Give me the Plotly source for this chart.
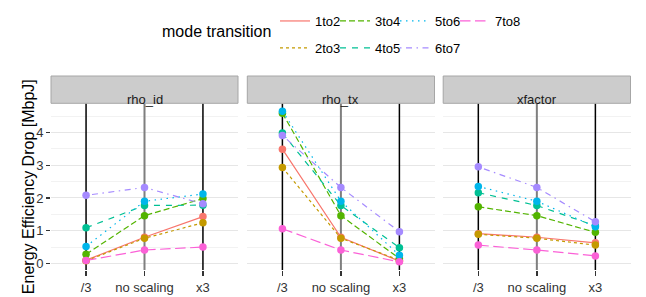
import plotly.graph_objects as go

categories = ["/3", "no scaling", "x3"]
panels = ["rho_id", "rho_tx", "xfactor"]
transitions = ["1to2", "2to3", "3to4", "4to5", "5to6", "6to7", "7to8"]
y_range = [-0.2, 4.89]

rho_id = {
    "1to2": [0.10, 0.80, 1.43],
    "2to3": [0.08, 0.77, 1.24],
    "3to4": [0.28, 1.46, 1.98],
    "4to5": [1.09, 1.77, 1.78],
    "5to6": [0.52, 1.90, 2.12],
    "6to7": [2.08, 2.32, 1.82],
    "7to8": [0.09, 0.41, 0.50],
}
rho_tx = {
    "1to2": [3.49, 0.80, 0.07],
    "2to3": [2.93, 0.77, 0.10],
    "3to4": [4.59, 1.46, 0.15],
    "4to5": [3.98, 1.77, 0.48],
    "5to6": [4.65, 1.90, 0.25],
    "6to7": [3.91, 2.32, 0.97],
    "7to8": [1.06, 0.41, 0.05],
}
xfactor = {
    "1to2": [0.91, 0.80, 0.63],
    "2to3": [0.89, 0.77, 0.56],
    "3to4": [1.73, 1.46, 0.95],
    "4to5": [2.16, 1.77, 1.15],
    "5to6": [2.35, 1.90, 1.12],
    "6to7": [2.95, 2.32, 1.27],
    "7to8": [0.56, 0.41, 0.23],
}
panel_data = [rho_id, rho_tx, xfactor]

colors = ["#F8766D", "#C49A00", "#53B400", "#00C094", "#00B6EB", "#A58AFF", "#FB61D7"]
dashes = ["solid", "3px,3px", "6px,3px", "6px,6px", "1.5px,4.5px",
          "1.5px,4.5px,6px,4.5px", "10.5px,4.5px"]
legend_col = ["legend", "legend", "legend2", "legend2", "legend3", "legend3", "legend4"]

W, H = 646, 297
xdom = [(51 / W, 238 / W), (247.3 / W, 434.5 / W), (443.2 / W, 630.5 / W)]
ydom = (0.0909, 0.6522)
strip_top = 1 - 76 / H

fig = go.Figure()
font = "Liberation Sans, Arial, sans-serif"

# vertical category reference lines spanning the y range (drawn first, under data)
for p in range(3):
    xa = "x" if p == 0 else f"x{p+1}"
    ya = "y" if p == 0 else f"y{p+1}"
    for c in categories:
        mid = c == "no scaling"
        fig.add_trace(go.Scatter(
            x=[c, c], y=y_range, mode="lines",
            line=dict(color="#7F7F7F" if mid else "#000000", width=2 if mid else 1.5),
            xaxis=xa, yaxis=ya, showlegend=False, hoverinfo="skip", cliponaxis=False))

# lines
for p in range(3):
    xa = "x" if p == 0 else f"x{p+1}"
    ya = "y" if p == 0 else f"y{p+1}"
    for i, t in enumerate(transitions):
        fig.add_trace(go.Scatter(
            x=categories, y=panel_data[p][t], mode="lines", name=t,
            line=dict(color=colors[i], width=1.2, dash=dashes[i]),
            xaxis=xa, yaxis=ya, legendgroup=t, showlegend=(p == 0),
            legend=legend_col[i], hoverinfo="skip"))
# points
for p in range(3):
    xa = "x" if p == 0 else f"x{p+1}"
    ya = "y" if p == 0 else f"y{p+1}"
    for i, t in enumerate(transitions):
        fig.add_trace(go.Scatter(
            x=categories, y=panel_data[p][t], mode="markers", name=t,
            marker=dict(color=colors[i], size=7.5),
            xaxis=xa, yaxis=ya, legendgroup=t, showlegend=False))

shapes = []
annotations = []
for p in range(3):
    xa = "x" if p == 0 else f"x{p+1}"
    shapes.append(dict(type="rect", xref=f"{xa} domain", yref="paper",
                       x0=0, x1=1, y0=ydom[1], y1=strip_top,
                       fillcolor="#CCCCCC", line=dict(color="#A6A6A6", width=1)))
    annotations.append(dict(text=panels[p], xref=f"{xa} domain", yref="paper",
                            x=0.5, y=(ydom[1] + strip_top) / 2, showarrow=False,
                            font=dict(size=13, color="#1A1A1A", family=font)))

annotations.append(dict(text="Energy Efficiency Drop [MbpJ]", xref="paper", yref="paper",
                        x=18 / W, y=(ydom[0] + ydom[1]) / 2, textangle=-90,
                        showarrow=False, font=dict(size=16, color="#000000", family=font)))
annotations.append(dict(text="mode transition", xref="paper", yref="paper",
                        x=160 / W, y=1 - 32 / H, xanchor="left", yanchor="middle",
                        showarrow=False, font=dict(size=16, color="#000000", family=font)))

xaxis_common = dict(type="category", categoryorder="array", categoryarray=categories,
                    range=[-0.6, 2.6], zeroline=False, showline=False, showgrid=False,
                    ticks="outside", ticklen=5, tickwidth=1.5, tickcolor="#333333",
                    tickfont=dict(size=13, color="#333333", family=font), fixedrange=True)
yaxis_common = dict(range=y_range, domain=ydom, tickvals=[0, 1, 2, 3, 4],
                    showgrid=True, gridcolor="#E6E6E6", gridwidth=1, zeroline=False,
                    showline=False, minor=dict(dtick=0.5, tick0=0, showgrid=True,
                                               gridcolor="#F2F2F2", gridwidth=1),
                    tickfont=dict(size=13, color="#333333", family=font), fixedrange=True)

legend_common = dict(orientation="v", xanchor="left", yanchor="top",
                     itemwidth=30, tracegroupgap=7,
                     bgcolor="rgba(0,0,0,0)", font=dict(size=13, color="#000000", family=font),
                     traceorder="grouped", y=1 - 6 / H)

fig.update_layout(
    width=W, height=H,
    margin=dict(l=0, r=0, t=0, b=0, pad=0, autoexpand=False),
    paper_bgcolor="white", plot_bgcolor="white",
    font=dict(family=font),
    xaxis=dict(domain=xdom[0], anchor="y", **xaxis_common),
    xaxis2=dict(domain=xdom[1], anchor="y2", **xaxis_common),
    xaxis3=dict(domain=xdom[2], anchor="y3", **xaxis_common),
    yaxis=dict(anchor="x", ticks="outside", ticklen=4, tickwidth=1.2, tickcolor="#333333",
               **yaxis_common),
    yaxis2=dict(anchor="x2", matches="y", showticklabels=False, ticks="", **yaxis_common),
    yaxis3=dict(anchor="x3", matches="y", showticklabels=False, ticks="", **yaxis_common),
    legend=dict(x=275 / W, **legend_common),
    legend2=dict(x=335 / W, **legend_common),
    legend3=dict(x=395 / W, **legend_common),
    legend4=dict(x=455 / W, **legend_common),
    shapes=shapes, annotations=annotations,
    hovermode=False,
)

fig.write_html("out.html", post_script="document.body.style.margin='0';",
               config={"displayModeBar": False, "staticPlot": True})
